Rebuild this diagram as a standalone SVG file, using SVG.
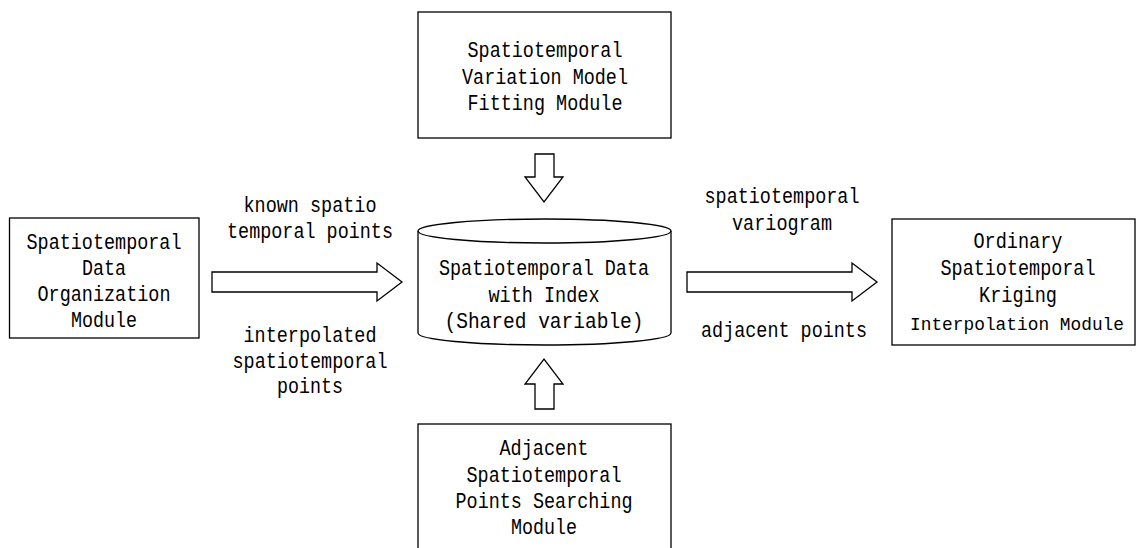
<svg xmlns="http://www.w3.org/2000/svg" width="1137" height="548" viewBox="0 0 1137 548">
<style>
.box{fill:#fff;stroke:#000;stroke-width:1.3}
.arr{fill:#fff;stroke:#000;stroke-width:1.3;stroke-linejoin:miter}
text{font-family:"Liberation Mono","DejaVu Sans Mono",monospace;font-size:22px;fill:#000;text-anchor:middle}
</style>
<rect width="1137" height="548" fill="#fff"/>
<g id="connectors">
<polygon class="arr" points="535,154 554,154 554,177 563,177 544,202 525,177 535,177"/>
<polygon class="arr" points="535,409 554,409 554,384 563,384 544,359 525,384 535,384"/>
<polygon class="arr" points="212,272 377,272 377,263 402,282 377,301 377,292 212,292"/>
<polygon class="arr" points="687,272 852,272 852,263 877,282 852,301 852,292 687,292"/>
<g id="labels">
<text x="310" y="212" textLength="133" lengthAdjust="spacingAndGlyphs">known spatio</text>
<text x="310" y="238" textLength="166" lengthAdjust="spacingAndGlyphs">temporal points</text>
<text x="310" y="342" textLength="133" lengthAdjust="spacingAndGlyphs">interpolated</text>
<text x="310" y="368" textLength="155" lengthAdjust="spacingAndGlyphs">spatiotemporal</text>
<text x="310" y="393" textLength="66" lengthAdjust="spacingAndGlyphs">points</text>
<text x="782" y="203" textLength="155" lengthAdjust="spacingAndGlyphs">spatiotemporal</text>
<text x="782" y="230" textLength="100" lengthAdjust="spacingAndGlyphs">variogram</text>
<text x="784" y="337" textLength="166" lengthAdjust="spacingAndGlyphs">adjacent points</text>
</g>
</g>
<g id="node-organization">
<rect class="box" x="9.5" y="218" width="189.5" height="120"/>
<text x="104" y="249" textLength="155" lengthAdjust="spacingAndGlyphs">Spatiotemporal</text>
<text x="104" y="275" textLength="44" lengthAdjust="spacingAndGlyphs">Data</text>
<text x="104" y="301" textLength="133" lengthAdjust="spacingAndGlyphs">Organization</text>
<text x="104" y="327" textLength="66" lengthAdjust="spacingAndGlyphs">Module</text>
</g>
<g id="node-fitting">
<rect class="box" x="418" y="12" width="253" height="126"/>
<text x="545" y="57" textLength="155" lengthAdjust="spacingAndGlyphs">Spatiotemporal</text>
<text x="545" y="84" textLength="166" lengthAdjust="spacingAndGlyphs">Variation Model</text>
<text x="545" y="110" textLength="155" lengthAdjust="spacingAndGlyphs">Fitting Module</text>
</g>
<g id="node-data">
<path class="box" d="M418,231 A126.5,12 0 0 1 671,231 L671,333 A126.5,12 0 0 1 418,333 Z"/>
<path fill="none" stroke="#000" stroke-width="1.3" d="M418,231 A126.5,12 0 0 0 671,231"/>
<text x="544" y="275" textLength="210" lengthAdjust="spacingAndGlyphs">Spatiotemporal Data</text>
<text x="544" y="302" textLength="111" lengthAdjust="spacingAndGlyphs">with Index</text>
<text x="544" y="328" textLength="199" lengthAdjust="spacingAndGlyphs">(Shared variable)</text>
</g>
<g id="node-kriging">
<rect class="box" x="892" y="219" width="243" height="126"/>
<text x="1018" y="248" textLength="89" lengthAdjust="spacingAndGlyphs">Ordinary</text>
<text x="1018" y="275" textLength="155" lengthAdjust="spacingAndGlyphs">Spatiotemporal</text>
<text x="1018" y="302" textLength="78" lengthAdjust="spacingAndGlyphs">Kriging</text>
<text x="1017" y="330" style="font-size:18px" textLength="214" lengthAdjust="spacingAndGlyphs">Interpolation Module</text>
</g>
<g id="node-searching">
<rect class="box" x="418" y="424" width="253" height="140"/>
<text x="544" y="455" textLength="89" lengthAdjust="spacingAndGlyphs">Adjacent</text>
<text x="544" y="482" textLength="155" lengthAdjust="spacingAndGlyphs">Spatiotemporal</text>
<text x="544" y="508" textLength="177" lengthAdjust="spacingAndGlyphs">Points Searching</text>
<text x="544" y="534" textLength="66" lengthAdjust="spacingAndGlyphs">Module</text>
</g>
</svg>
